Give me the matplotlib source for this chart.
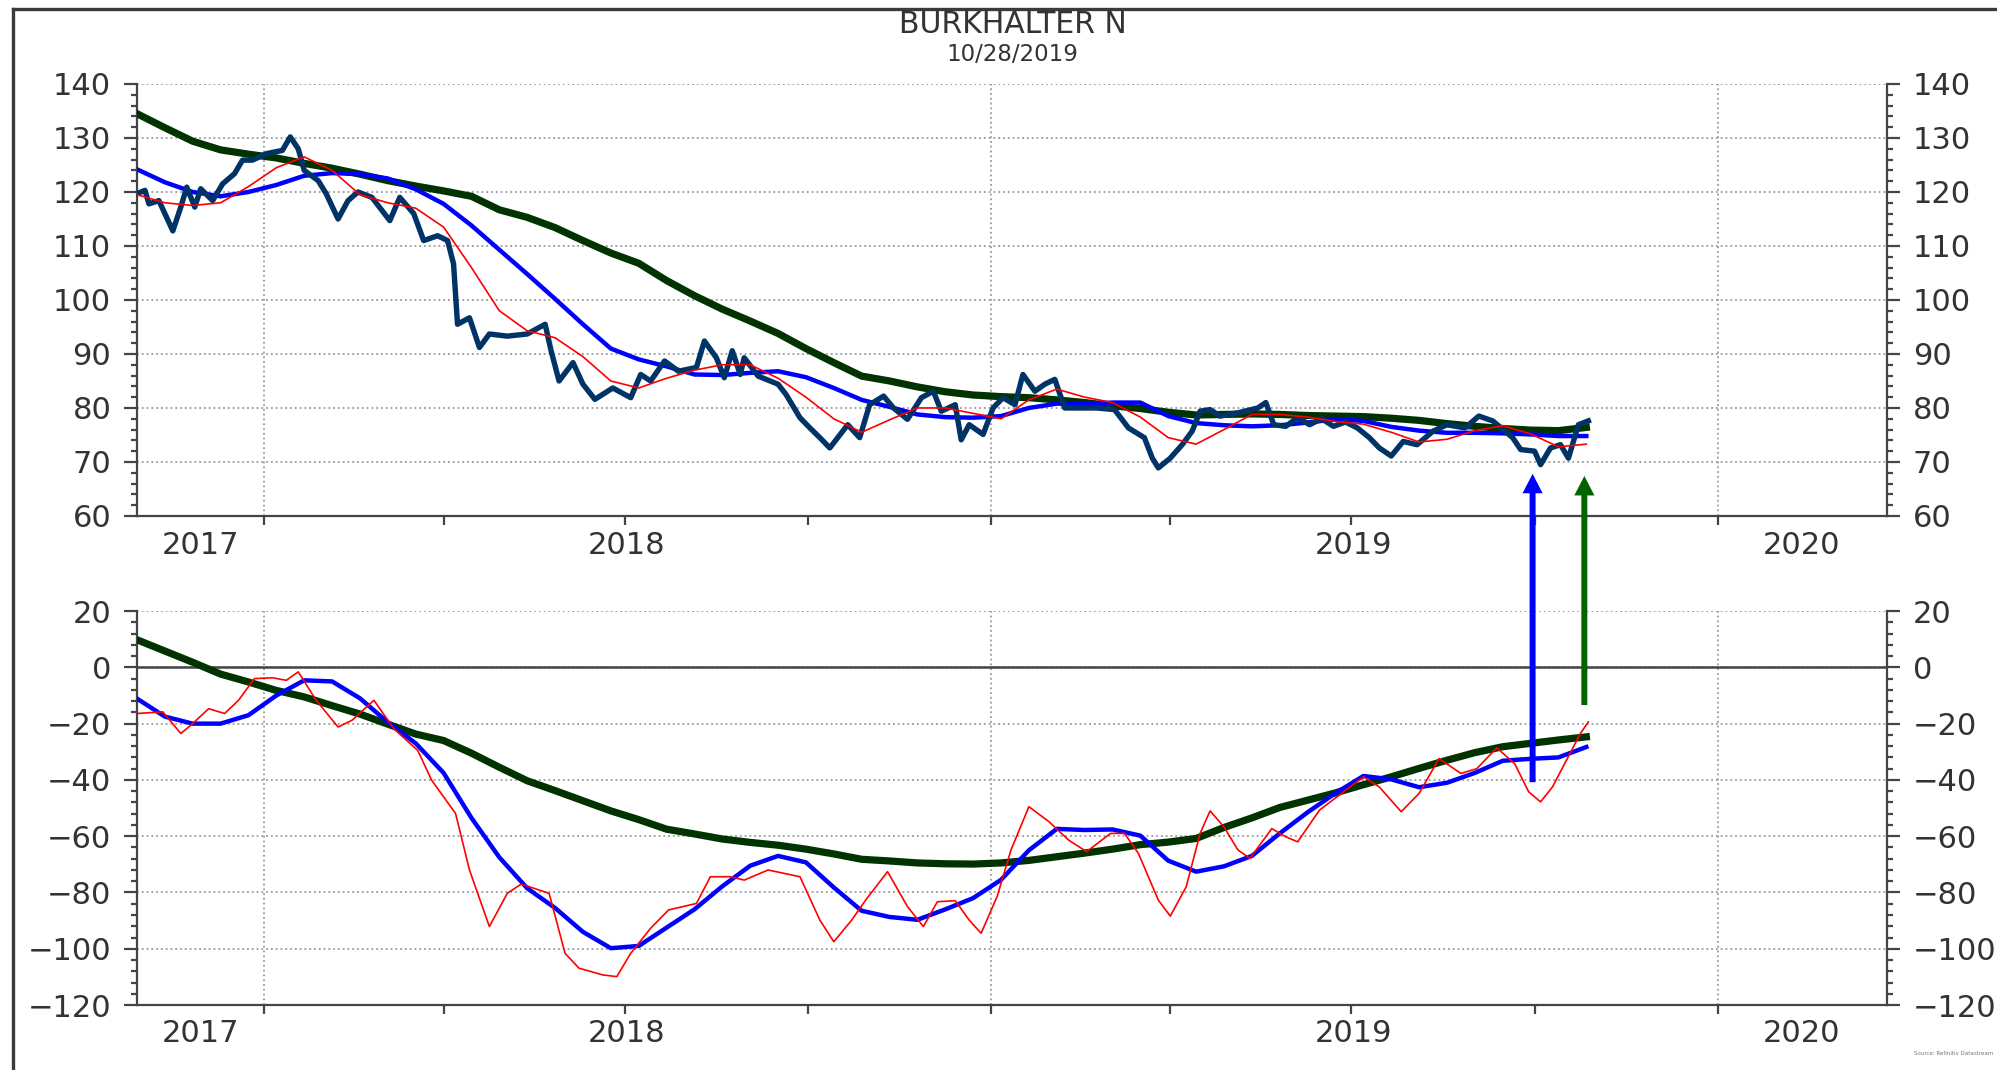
import matplotlib
matplotlib.use("Agg")
import matplotlib.pyplot as plt
import matplotlib.dates as mdates
from matplotlib.ticker import MultipleLocator, NullFormatter
from matplotlib.lines import Line2D
import pandas as pd

plt.rcParams['font.family'] = ['DejaVu Sans']

START = pd.Timestamp('2017-10-29')
fortnights = pd.date_range('2017-10-29', periods=53, freq='14D')

# price readings: days after START, close
price_days = [0, 4, 6, 11, 18, 22, 25, 29, 32, 38, 43, 49, 53, 58, 65, 73, 77, 81, 84, 91,
              95, 101, 106, 111, 118, 127, 132, 139, 144, 151, 156, 159, 161, 167, 172, 177,
              186, 196, 205, 208, 212, 219, 224, 230, 239, 248, 253, 258, 265, 272, 281, 285,
              291, 295, 299, 303, 305, 312, 322, 326, 333, 338, 343, 348, 352, 357, 363, 368,
              375, 380, 387, 394, 400, 404, 411, 414, 418, 425, 430, 435, 441, 445, 451, 456,
              461, 466, 473, 482, 491, 498, 506, 510, 513, 519, 525, 530, 534, 539, 544, 553,
              563, 567, 571, 577, 583, 589, 595, 601, 607, 613, 619, 624, 630, 636, 643, 651,
              658, 667, 674, 681, 691, 695, 702, 705, 710, 715, 719, 724, 729]
price = [119.7, 120.3, 117.8, 118.4, 112.8, 117.2, 120.9, 117.2, 120.6, 118.4, 121.5, 123.4,
         125.9, 125.9, 127.1, 127.7, 130.2, 128, 124, 122.1, 119.7, 115, 118.4, 120, 119,
         114.7, 119, 116, 111, 111.9, 111, 106.7, 95.5, 96.7, 91.2, 93.7, 93.3, 93.7, 95.5,
         90.6, 85, 88.4, 84.4, 81.6, 83.7, 81.9, 86.2, 85, 88.7, 86.8, 87.5, 92.4, 89.3,
         85.6, 90.6, 86.2, 89.3, 85.9, 84.4, 82.5, 78.2, 76.3, 74.5, 72.6, 74.5, 76.9, 74.5,
         80.6, 82.2, 80, 77.9, 81.9, 83.1, 79.4, 80.6, 74.1, 76.9, 75.1, 80, 81.9, 80.6,
         86.2, 83.1, 84.4, 85.3, 80, 80, 80, 79.7, 76.3, 74.5, 70.7, 68.9, 70.7, 73.2, 75.7,
         79.4, 79.7, 78.5, 79.1, 80, 81, 76.9, 76.6, 78.2, 76.9, 78, 76.6, 77.4, 76.3, 74.5,
         72.6, 71.1, 73.8, 73.2, 75.7, 76.9, 76.3, 78.5, 77.6, 74.5, 72.3, 72, 69.5, 72.6,
         73.2, 70.7, 76.9, 77.6]

ma_short = [119.5, 118, 117.5, 118, 121, 124.5, 126.5, 124, 119.5, 118,
            117, 113.5, 106, 98, 94.3, 93, 89.5, 85, 83.7, 85.5,
            87, 88, 88, 85.5, 82, 78, 75.5, 77.8, 80, 80,
            79, 78, 81.5, 83.5, 82, 81, 78.3, 74.5, 73.3, 76,
            78.8, 78.8, 78.3, 77.5, 77, 75.5, 73.7, 74.2, 75.8, 76.7,
            75.2, 72.8, 73.3]

ma_mid = [124.2, 121.8, 120, 119.2, 120, 121.3, 123, 123.5, 123.3, 122.5,
          120.5, 117.8, 113.8, 109.3, 104.8, 100.2, 95.5, 91, 89, 87.7,
          86.2, 86.1, 86.5, 86.8, 85.7, 83.7, 81.5, 80.2, 78.8, 78.3,
          78.2, 78.5, 80, 80.8, 80.7, 81, 81, 78.5, 77.2, 76.8,
          76.6, 76.8, 77.3, 77.9, 77.6, 76.5, 75.8, 75.4, 75.4, 75.3,
          75.1, 74.8, 74.8]

ma_long = [134.5, 131.9, 129.4, 127.8, 127, 126.3, 125.3, 124.4, 123.3, 122.1,
           121.1, 120.2, 119.2, 116.7, 115.3, 113.4, 111, 108.7, 106.8, 103.6,
           100.8, 98.3, 96.1, 93.8, 91, 88.4, 85.9, 85, 83.9, 83,
           82.4, 82.1, 81.9, 81.5, 81, 80.4, 79.9, 79.2, 78.7, 78.8,
           78.9, 78.8, 78.6, 78.5, 78.4, 78.1, 77.7, 77.1, 76.6, 76.2,
           75.9, 75.8, 76.4]

# lower panel, fast line: days after START, value
osc_short_days = [0, 13, 22, 27, 36, 44, 51, 59, 68, 75, 81, 90, 101, 108, 119, 129, 141, 148,
                  160, 167, 177, 186, 193, 207, 215, 222, 234, 241, 248, 258, 267, 281, 288,
                  298, 305, 317, 333, 343, 350, 359, 366, 377, 387, 395, 402, 411, 418, 424,
                  432, 439, 448, 458, 468, 477, 489, 496, 503, 513, 519, 527, 534, 539, 546,
                  553, 559, 570, 577, 583, 594, 605, 616, 624, 635, 644, 654, 665, 673, 683,
                  692, 699, 705, 711, 718, 725, 729]
osc_short = [-16.4, -15.8, -23.5, -20.6, -14.7, -16.4, -11.7, -4, -3.7, -4.6, -1.6, -11.7,
             -21.2, -18.8, -11.7, -21.8, -29.5, -40.1, -51.9, -72, -92.1, -80.3, -77, -80.3,
             -101.6, -106.9, -109.3, -109.9, -101.6, -92.7, -86.2, -83.9, -74.4, -74.4, -75.6,
             -72, -74.4, -89.8, -97.5, -89.8, -82.7, -72.6, -85, -92.1, -83.3, -82.9, -89.8,
             -94.5, -81.5, -64.9, -49.5, -54.8, -61.4, -65.5, -59, -59, -66.1, -82.7, -88.4,
             -78, -59, -51, -56.7, -64.9, -67.9, -57.3, -60.2, -62, -50.7, -44.8, -38.9,
             -42.5, -51.3, -44.8, -32.4, -37.7, -36, -28.6, -34.2, -44.2, -47.8, -42.5, -33,
             -23.5, -19.4]

osc_mid = [-11.1, -17.5, -20, -20, -17, -10, -4.6, -5, -11, -19.5,
           -27, -37.5, -53.5, -67.5, -78.5, -85.5, -94, -99.8, -99, -92.5,
           -86, -77.8, -70.5, -67, -69.3, -78.2, -86.5, -88.7, -89.7, -86,
           -82, -75.5, -65, -57.4, -57.8, -57.6, -59.8, -68.7, -72.6, -70.7,
           -67, -59, -51.5, -44.7, -38.6, -39.8, -42.6, -41, -37.5, -33.2,
           -32.5, -32, -28.3]

osc_long = [9.8, 5.8, 1.8, -2.4, -5.2, -8.2, -10.5, -13.6, -16.6, -20.2,
            -23.7, -26, -30.5, -35.5, -40.3, -43.8, -47.4, -51, -54.1, -57.5,
            -59.2, -61, -62.2, -63.2, -64.6, -66.3, -68.2, -68.8, -69.5, -69.8,
            -69.9, -69.5, -68.6, -67.3, -66, -64.6, -63, -62.1, -60.8, -56.9,
            -53.5, -49.8, -47.2, -44.6, -41.7, -38.9, -35.9, -33, -30.3, -28.2,
            -27, -25.8, -24.7]

year_labels = ['2017', '2018', '2019', '2020']
year_label_dates = pd.to_datetime(['2017-11-30', '2018-07-02', '2019-07-02', '2020-02-12'])

# signal arrows: date, start (lower panel), tip (upper panel)
arrow_dates = pd.to_datetime(['2019-09-30', '2019-10-26'])
arrow_start = [-40.8, -13.4]
arrow_tip = [67.8, 67.4]
arrow_colors = ['#0000ff', '#006400']

price_dates = START + pd.to_timedelta(price_days, unit='D')
osc_short_dates = START + pd.to_timedelta(osc_short_days, unit='D')

TXT = '#333333'
AXC = '#444444'
GRID = '#9a9a9a'

fig = plt.figure(figsize=(19.97, 10.70), dpi=100)
ax1 = fig.add_axes([0.0686, 0.5178, 0.8763, 0.4037])
ax2 = fig.add_axes([0.0686, 0.0607, 0.8763, 0.3682])

xlim = (pd.Timestamp('2017-10-29'), pd.Timestamp('2020-03-26'))


def style(ax, lo, hi, major, minor):
    ax.set_xlim(*xlim)
    ax.set_ylim(lo, hi)
    ax.spines['top'].set_visible(False)
    for s in ['left', 'right', 'bottom']:
        ax.spines[s].set_color(AXC)
        ax.spines[s].set_linewidth(1.6)
    ax.yaxis.set_major_locator(MultipleLocator(major))
    ax.yaxis.set_minor_locator(MultipleLocator(minor))
    ax.xaxis.set_major_locator(mdates.YearLocator())
    ax.xaxis.set_minor_locator(mdates.MonthLocator(bymonth=[4, 7, 10]))
    ax.xaxis.set_major_formatter(NullFormatter())
    ax.tick_params(axis='y', which='major', direction='out', length=9.5, width=1.6,
                   color=AXC, left=True, right=True, labelleft=True, labelright=True,
                   labelsize=22, labelcolor=TXT, pad=9)
    ax.tick_params(axis='y', which='minor', direction='out', length=4.5, width=1.6,
                   color=AXC, left=True, right=True)
    ax.tick_params(axis='x', which='both', direction='out', length=6.5, width=1.6,
                   color=AXC)
    ax.grid(True, axis='y', which='major', linestyle=':', color=GRID, lw=1.3)
    ax.grid(True, axis='x', which='major', linestyle=':', color=GRID, lw=1.3)
    for d, lab in zip(year_label_dates, year_labels):
        ax.text(d, -0.035, lab, transform=ax.get_xaxis_transform(), ha='center',
                va='top', fontsize=22, color=TXT)


style(ax1, 60, 140, 10, 2)
style(ax2, -120, 20, 20, 4)

ax1.plot(fortnights, ma_long, color='#003300', lw=5.2, zorder=3)
ax1.plot(fortnights, ma_mid, color='#0000ff', lw=3.2, zorder=4)
ax1.plot(price_dates, price, color='#003366', lw=3.9, zorder=5, solid_joinstyle='round')
ax1.plot(fortnights, ma_short, color='#ff0000', lw=1.2, zorder=6)

ax2.axhline(0, color=AXC, lw=1.8, zorder=2)
ax2.plot(fortnights, osc_long, color='#003300', lw=5.2, zorder=3)
ax2.plot(fortnights, osc_mid, color='#0000ff', lw=3.2, zorder=4)
ax2.plot(osc_short_dates, osc_short, color='#ff0000', lw=1.2, zorder=5)

for d, y0, y1, c in zip(arrow_dates, arrow_start, arrow_tip, arrow_colors):
    xd = mdates.date2num(d)
    ax2.annotate('', xy=(xd, y1), xycoords=ax1.transData,
                 xytext=(xd, y0), textcoords=ax2.transData,
                 arrowprops=dict(arrowstyle='simple,head_length=1.4,head_width=1.45,tail_width=0.43',
                                 color=c, lw=0, shrinkA=0, shrinkB=0, mutation_scale=10),
                 annotation_clip=False, zorder=10)

fig.text(0.507, 0.977, 'BURKHALTER N', ha='center', va='center', fontsize=21.5, color=TXT)
fig.text(0.507, 0.949, '10/28/2019', ha='center', va='center', fontsize=16.5, color=TXT)
fig.text(0.998, 0.015, 'Source: Refinitiv Datastream', ha='right', va='center',
         fontsize=4, color='#777777')

# outer frame
fig.add_artist(Line2D([12.5 / 1997, 12.5 / 1997], [0, 1 - 9 / 1070],
                      transform=fig.transFigure, color='#3a3a3a', lw=2.4))
fig.add_artist(Line2D([12.5 / 1997, 1], [1 - 9 / 1070, 1 - 9 / 1070],
                      transform=fig.transFigure, color='#3a3a3a', lw=2.4))

fig.savefig('out.png', dpi=100)
